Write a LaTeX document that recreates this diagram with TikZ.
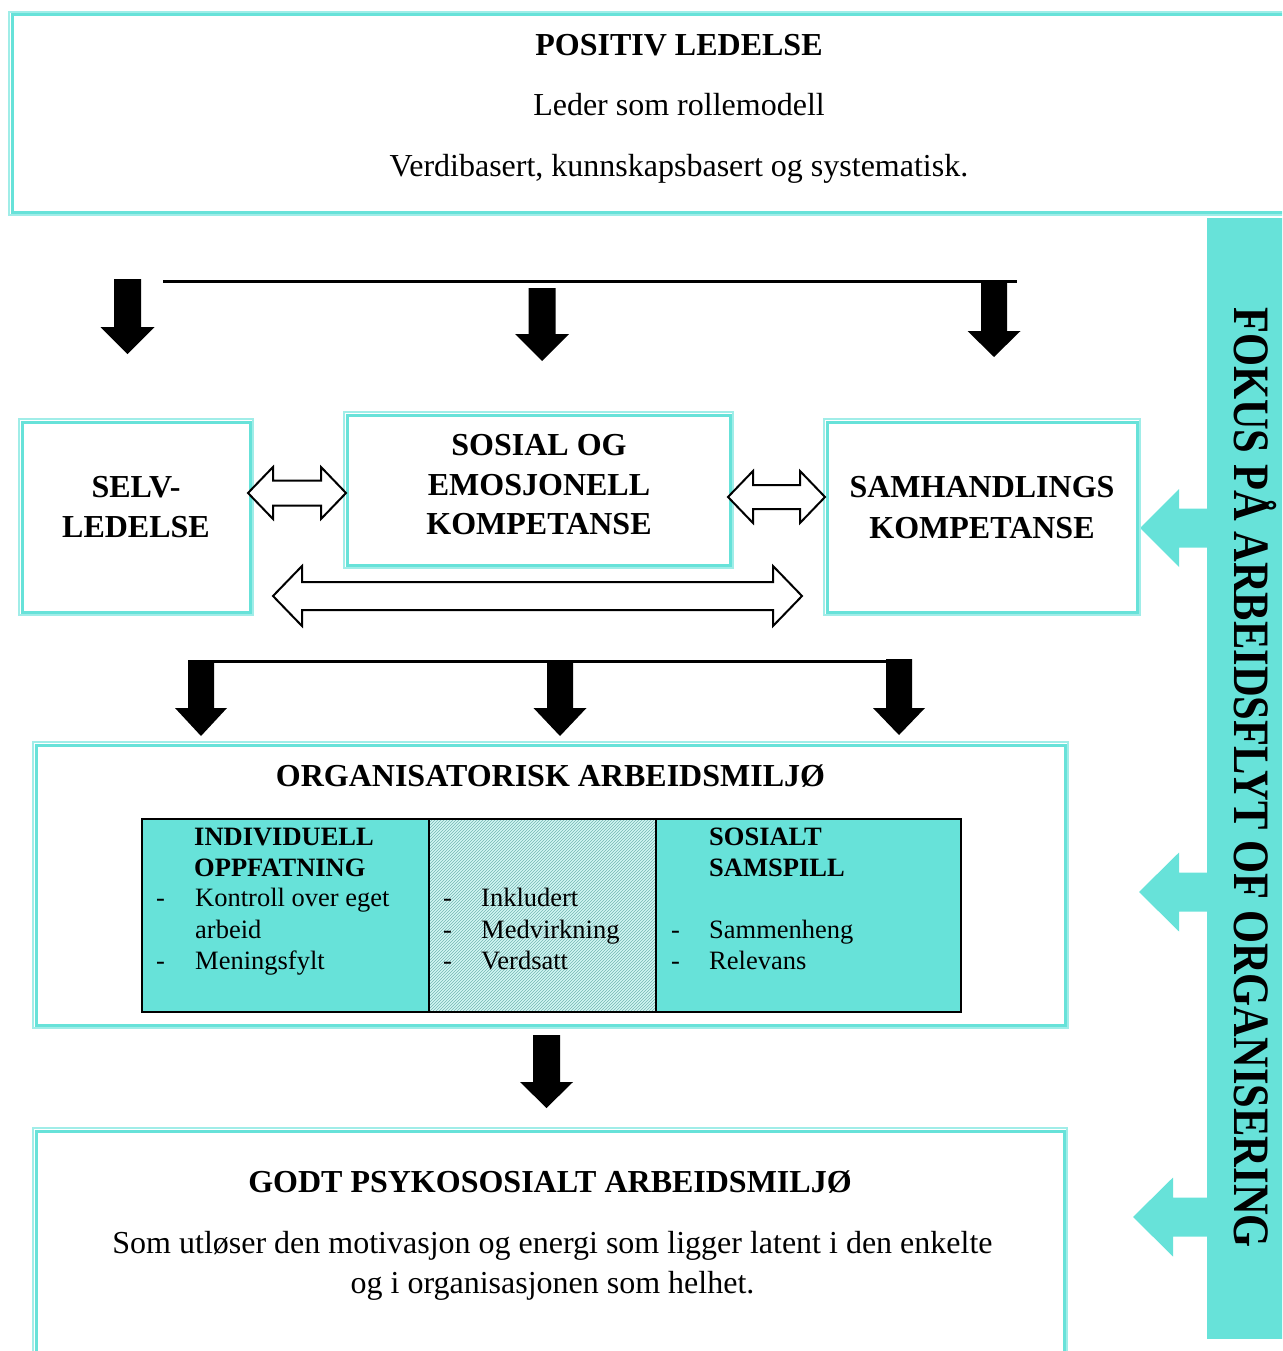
\documentclass[tikz,border=0pt]{standalone}
\usepackage{fontspec}
\setmainfont{Liberation Serif}
\usetikzlibrary{patterns}
\definecolor{tq}{RGB}{103,226,217}
\definecolor{tql}{RGB}{160,237,232}
\newcommand{\outerline}[1]{\draw[tql, line width=1.2pt] ([shift={(-3pt,3pt)}]#1.north west) rectangle ([shift={(3pt,-3pt)}]#1.south east);}
% x, ytop, shaft half, yhead, head half, ytip
\newcommand{\bdown}[6]{\fill[black] ({#1-#3},#2) -- ({#1+#3},#2) -- ({#1+#3},#4) -- ({#1+#5},#4) -- (#1,#6) -- ({#1-#5},#4) -- ({#1-#3},#4) -- cycle;}
% xleft tip, xright tip, yc, head length, head half, shaft half
\newcommand{\bdouble}[6]{\draw[black, fill=white, line width=2pt, line join=miter] (#1,#3) -- ({#1+#4},{#3-#5}) -- ({#1+#4},{#3-#6}) -- ({#2-#4},{#3-#6}) -- ({#2-#4},{#3-#5}) -- (#2,#3) -- ({#2-#4},{#3+#5}) -- ({#2-#4},{#3+#6}) -- ({#1+#4},{#3+#6}) -- ({#1+#4},{#3+#5}) -- cycle;}
% tip x, yc, head back x, head half, shaft half, shaft end x
\newcommand{\bleft}[6]{\fill[tq] (#1,#2) -- (#3,{#2-#4}) -- (#3,{#2-#5}) -- (#6,{#2-#5}) -- (#6,{#2+#5}) -- (#3,{#2+#5}) -- (#3,{#2+#4}) -- cycle;}
\begin{document}
\begin{tikzpicture}[x=1pt,y=-1pt,
  box/.style={draw=tq, line width=3pt, outer sep=0pt, inner sep=0pt, rectangle},
  cell/.style={rectangle, outer sep=0pt, inner sep=0pt, minimum height=193pt},
  t32/.style={inner sep=0pt, anchor=base, font=\fontsize{32}{32}\selectfont},
  b32/.style={inner sep=0pt, anchor=base, font=\fontsize{32}{32}\selectfont\bfseries},
  tt/.style={inner sep=0pt, anchor=base west, font=\fontsize{26.5}{26.5}\selectfont},
  tb/.style={inner sep=0pt, anchor=base west, font=\fontsize{26.5}{26.5}\selectfont\bfseries},
  hline/.style={black, line width=3pt}
]
\useasboundingbox (0,0) rectangle (1282,1351);
\clip (0,0) rectangle (1282,1351);

% ---------- top box ----------
\node[box, minimum width=1288pt, minimum height=197pt] (top) at (656,113.5) {};
\outerline{top}
\node[b32] (t1) at (679,55.5) {POSITIV LEDELSE};
\node[t32] (t2) at (679,116) {Leder som rollemodell};
\node[t32] (t3) at (679,177) {Verdibasert, kunnskapsbasert og systematisk.};

% ---------- side bar ----------
\node[fill=tq, inner sep=0pt, outer sep=0pt, minimum width=83pt, minimum height=1121pt] (side) at (1248.5,778.5) {};
\node[rotate=-90, anchor=base, inner sep=0pt] (sidetxt) at (1234,777.5)
  {\scalebox{1}[1.2]{\fontsize{42.5}{42.5}\selectfont\bfseries FOKUS PÅ ARBEIDSFLYT OF ORGANISERING}};
\bleft{1140}{528}{1179}{39}{19.5}{1208}
\bleft{1139}{892}{1179}{39.5}{19.5}{1208}
\bleft{1133}{1217}{1173}{39.5}{19.5}{1208}

% ---------- top connector ----------
\coordinate (la) at (163,281);
\coordinate (lb) at (1017,281);
\draw[hline] (la) -- (lb);
\bdown{127.5}{279}{13.5}{327}{27}{354}
\bdown{542}{288}{13.5}{334}{27}{361}
\bdown{994}{283}{13}{331}{26.5}{357}

% ---------- middle boxes ----------
\node[box, minimum width=228pt, minimum height=190pt] (selv) at (136,517) {};
\outerline{selv}
\node[b32] at (136,497.5) {SELV-};
\node[b32] at (136,537) {LEDELSE};

\node[box, minimum width=383pt, minimum height=150pt] (sos) at (538.5,490) {};
\outerline{sos}
\node[b32] at (539,455.5) {SOSIAL OG};
\node[b32] at (539,495.5) {EMOSJONELL};
\node[b32] at (539,534.5) {KOMPETANSE};

\node[box, minimum width=310pt, minimum height=190pt] (sam) at (982,517) {};
\outerline{sam}
\node[b32] at (982,497) {SAMHANDLINGS};
\node[b32] at (982,538) {KOMPETANSE};

\bdouble{248}{346}{493}{25}{26}{12.5}
\bdouble{728}{825}{497}{25}{26}{12}
\bdouble{273}{802}{596}{29}{30}{14}

% ---------- second connector ----------
\coordinate (ma) at (201,661);
\coordinate (mb) at (899,661);
\draw[hline] (ma) -- (mb);
\bdown{201}{660}{13}{708}{26}{736}
\bdown{560}{660}{13}{708}{26.5}{736}
\bdown{899}{659}{13}{708}{26}{735}

% ---------- organisational box ----------
\node[box, minimum width=1029pt, minimum height=280pt] (org) at (550.5,885) {};
\outerline{org}
\node[b32] at (550.5,786.5) {ORGANISATORISK ARBEIDSMILJØ};

\node[cell, fill=tq, minimum width=287pt] (c1) at (285.5,915.5) {};
\node[cell, fill=tq!28, minimum width=227pt] (c2) at (542.5,915.5) {};
\fill[pattern=north east lines, pattern color=tq!55!gray] (c2.north west) rectangle (c2.south east);
\node[cell, fill=tq, minimum width=305pt] (c3) at (808.5,915.5) {};
\draw[black, line width=2.2pt] (c1.north west) rectangle (c3.south east);
\draw[black, line width=2pt] (c1.north east) -- (c1.south east);
\draw[black, line width=2pt] (c3.north west) -- (c3.south west);

\node[tb] at (194,845) {INDIVIDUELL};
\node[tb] at (194,876) {OPPFATNING};
\node[tt] at (156,906.5) {-};
\node[tt] at (195,906.5) {Kontroll over eget};
\node[tt] at (195,938) {arbeid};
\node[tt] at (156,969) {-};
\node[tt] at (195,969) {Meningsfylt};

\node[tt] at (443,906.5) {-};
\node[tt] at (481,906.5) {Inkludert};
\node[tt] at (443,938) {-};
\node[tt] at (481,938) {Medvirkning};
\node[tt] at (443,969) {-};
\node[tt] at (481,969) {Verdsatt};

\node[tb] at (709,845) {SOSIALT};
\node[tb] at (709,876) {SAMSPILL};
\node[tt] at (671,938) {-};
\node[tt] at (709,938) {Sammenheng};
\node[tt] at (671,969) {-};
\node[tt] at (709,969) {Relevans};

\bdown{546.5}{1035}{13.5}{1082}{26.5}{1108}

% ---------- bottom box ----------
\node[box, minimum width=1028pt, minimum height=289pt] (bot) at (550,1275.5) {};
\outerline{bot}
\node[b32] at (550,1192) {GODT PSYKOSOSIALT ARBEIDSMILJØ};
\node[t32] at (552.5,1253) {Som utløser den motivasjon og energi som ligger latent i den enkelte};
\node[t32] at (552.5,1293) {og i organisasjonen som helhet.};
\end{tikzpicture}
\end{document}
